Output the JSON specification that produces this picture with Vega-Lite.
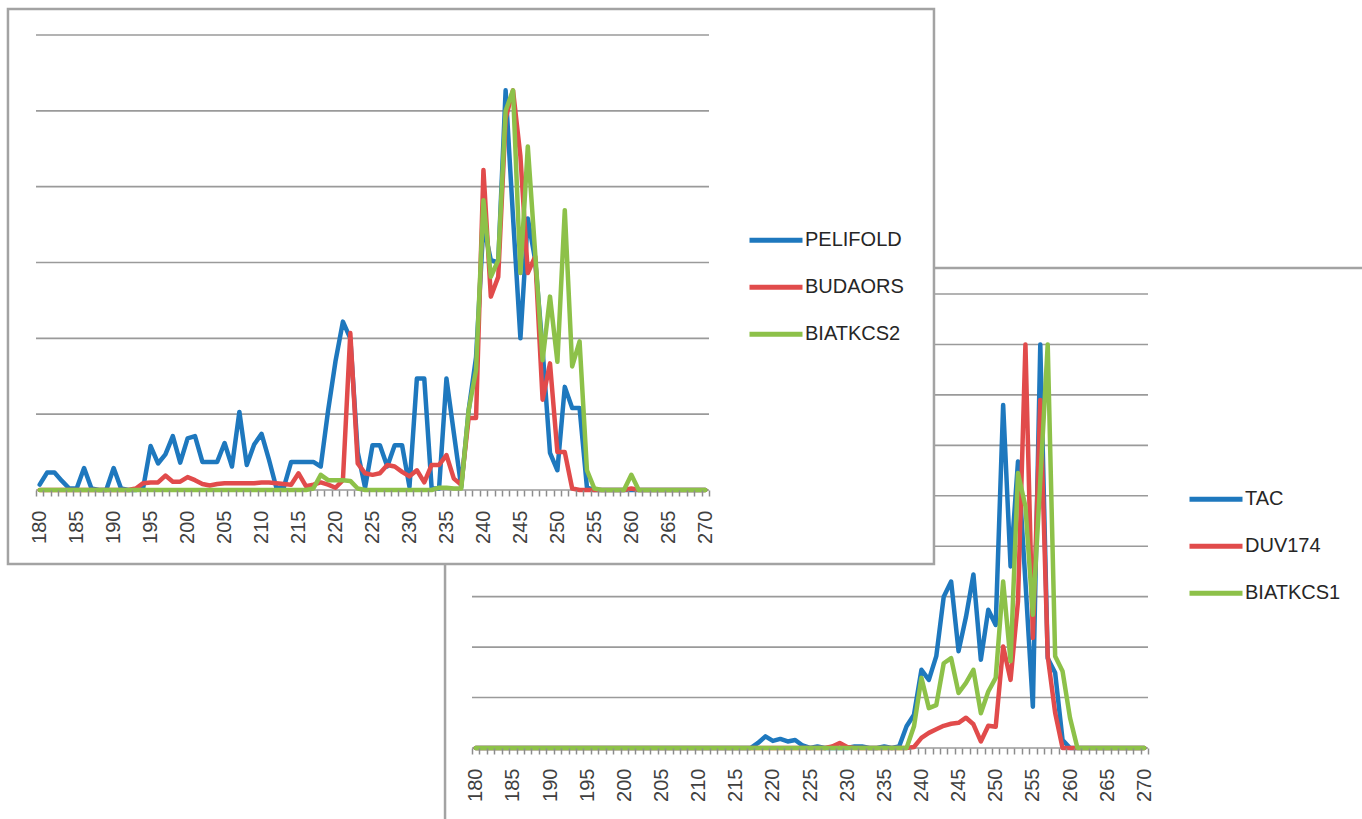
{
"$schema": "https://vega.github.io/schema/vega-lite/v6.json",
"width": 1362, "height": 490, "autosize": {"type": "none"}, "padding": {"left": 0, "top": 0, "right": 0, "bottom": 329},
"background": "white",
"config": {"view": {"stroke": null}},
"datasets": {
"c1": [
{"x":180,"PELIFOLD":0.07,"BUDAORS":0,"BIATKCS2":0},
{"x":181,"PELIFOLD":0.23,"BUDAORS":0,"BIATKCS2":0},
{"x":182,"PELIFOLD":0.23,"BUDAORS":0,"BIATKCS2":0},
{"x":183,"PELIFOLD":0.12,"BUDAORS":0,"BIATKCS2":0},
{"x":184,"PELIFOLD":0.02,"BUDAORS":0,"BIATKCS2":0},
{"x":185,"PELIFOLD":0.02,"BUDAORS":0,"BIATKCS2":0},
{"x":186,"PELIFOLD":0.29,"BUDAORS":0,"BIATKCS2":0},
{"x":187,"PELIFOLD":0.02,"BUDAORS":0,"BIATKCS2":0},
{"x":188,"PELIFOLD":0,"BUDAORS":0,"BIATKCS2":0},
{"x":189,"PELIFOLD":0,"BUDAORS":0,"BIATKCS2":0},
{"x":190,"PELIFOLD":0.29,"BUDAORS":0,"BIATKCS2":0},
{"x":191,"PELIFOLD":0.02,"BUDAORS":0,"BIATKCS2":0},
{"x":192,"PELIFOLD":0,"BUDAORS":0,"BIATKCS2":0},
{"x":193,"PELIFOLD":0,"BUDAORS":0.02,"BIATKCS2":0},
{"x":194,"PELIFOLD":0.03,"BUDAORS":0.09,"BIATKCS2":0},
{"x":195,"PELIFOLD":0.58,"BUDAORS":0.1,"BIATKCS2":0},
{"x":196,"PELIFOLD":0.35,"BUDAORS":0.1,"BIATKCS2":0},
{"x":197,"PELIFOLD":0.47,"BUDAORS":0.19,"BIATKCS2":0},
{"x":198,"PELIFOLD":0.71,"BUDAORS":0.11,"BIATKCS2":0},
{"x":199,"PELIFOLD":0.36,"BUDAORS":0.11,"BIATKCS2":0},
{"x":200,"PELIFOLD":0.68,"BUDAORS":0.17,"BIATKCS2":0},
{"x":201,"PELIFOLD":0.71,"BUDAORS":0.13,"BIATKCS2":0},
{"x":202,"PELIFOLD":0.37,"BUDAORS":0.08,"BIATKCS2":0},
{"x":203,"PELIFOLD":0.37,"BUDAORS":0.06,"BIATKCS2":0},
{"x":204,"PELIFOLD":0.37,"BUDAORS":0.08,"BIATKCS2":0},
{"x":205,"PELIFOLD":0.62,"BUDAORS":0.09,"BIATKCS2":0},
{"x":206,"PELIFOLD":0.31,"BUDAORS":0.09,"BIATKCS2":0},
{"x":207,"PELIFOLD":1.03,"BUDAORS":0.09,"BIATKCS2":0},
{"x":208,"PELIFOLD":0.33,"BUDAORS":0.09,"BIATKCS2":0},
{"x":209,"PELIFOLD":0.6,"BUDAORS":0.09,"BIATKCS2":0},
{"x":210,"PELIFOLD":0.74,"BUDAORS":0.1,"BIATKCS2":0},
{"x":211,"PELIFOLD":0.4,"BUDAORS":0.1,"BIATKCS2":0},
{"x":212,"PELIFOLD":0.03,"BUDAORS":0.09,"BIATKCS2":0},
{"x":213,"PELIFOLD":0.03,"BUDAORS":0.08,"BIATKCS2":0},
{"x":214,"PELIFOLD":0.37,"BUDAORS":0.07,"BIATKCS2":0},
{"x":215,"PELIFOLD":0.37,"BUDAORS":0.22,"BIATKCS2":0},
{"x":216,"PELIFOLD":0.37,"BUDAORS":0.05,"BIATKCS2":0},
{"x":217,"PELIFOLD":0.37,"BUDAORS":0.07,"BIATKCS2":0.02},
{"x":218,"PELIFOLD":0.31,"BUDAORS":0.1,"BIATKCS2":0.2},
{"x":219,"PELIFOLD":1.05,"BUDAORS":0.07,"BIATKCS2":0.13},
{"x":220,"PELIFOLD":1.7,"BUDAORS":0.03,"BIATKCS2":0.13},
{"x":221,"PELIFOLD":2.22,"BUDAORS":0.13,"BIATKCS2":0.13},
{"x":222,"PELIFOLD":2.0,"BUDAORS":2.07,"BIATKCS2":0.12},
{"x":223,"PELIFOLD":0.5,"BUDAORS":0.35,"BIATKCS2":0.02},
{"x":224,"PELIFOLD":0.03,"BUDAORS":0.22,"BIATKCS2":0},
{"x":225,"PELIFOLD":0.59,"BUDAORS":0.2,"BIATKCS2":0},
{"x":226,"PELIFOLD":0.59,"BUDAORS":0.22,"BIATKCS2":0},
{"x":227,"PELIFOLD":0.31,"BUDAORS":0.33,"BIATKCS2":0},
{"x":228,"PELIFOLD":0.59,"BUDAORS":0.31,"BIATKCS2":0},
{"x":229,"PELIFOLD":0.59,"BUDAORS":0.24,"BIATKCS2":0},
{"x":230,"PELIFOLD":0.04,"BUDAORS":0.18,"BIATKCS2":0},
{"x":231,"PELIFOLD":1.47,"BUDAORS":0.26,"BIATKCS2":0},
{"x":232,"PELIFOLD":1.47,"BUDAORS":0.1,"BIATKCS2":0},
{"x":233,"PELIFOLD":0.02,"BUDAORS":0.33,"BIATKCS2":0},
{"x":234,"PELIFOLD":0.02,"BUDAORS":0.33,"BIATKCS2":0.03},
{"x":235,"PELIFOLD":1.47,"BUDAORS":0.46,"BIATKCS2":0.03},
{"x":236,"PELIFOLD":0.75,"BUDAORS":0.15,"BIATKCS2":0.02},
{"x":237,"PELIFOLD":0.04,"BUDAORS":0.07,"BIATKCS2":0.02},
{"x":238,"PELIFOLD":1.05,"BUDAORS":0.95,"BIATKCS2":1.05},
{"x":239,"PELIFOLD":1.75,"BUDAORS":0.95,"BIATKCS2":1.58},
{"x":240,"PELIFOLD":3.5,"BUDAORS":4.22,"BIATKCS2":3.82},
{"x":241,"PELIFOLD":3.03,"BUDAORS":2.55,"BIATKCS2":2.81},
{"x":242,"PELIFOLD":3.0,"BUDAORS":2.81,"BIATKCS2":3.03},
{"x":243,"PELIFOLD":5.27,"BUDAORS":4.9,"BIATKCS2":5.0},
{"x":244,"PELIFOLD":3.6,"BUDAORS":5.27,"BIATKCS2":5.27},
{"x":245,"PELIFOLD":2.0,"BUDAORS":4.4,"BIATKCS2":2.86},
{"x":246,"PELIFOLD":3.58,"BUDAORS":2.86,"BIATKCS2":4.53},
{"x":247,"PELIFOLD":3.03,"BUDAORS":3.08,"BIATKCS2":3.12},
{"x":248,"PELIFOLD":1.85,"BUDAORS":1.19,"BIATKCS2":1.71},
{"x":249,"PELIFOLD":0.49,"BUDAORS":1.67,"BIATKCS2":2.55},
{"x":250,"PELIFOLD":0.26,"BUDAORS":0.5,"BIATKCS2":1.69},
{"x":251,"PELIFOLD":1.36,"BUDAORS":0.5,"BIATKCS2":3.69},
{"x":252,"PELIFOLD":1.08,"BUDAORS":0.02,"BIATKCS2":1.63},
{"x":253,"PELIFOLD":1.08,"BUDAORS":0,"BIATKCS2":1.96},
{"x":254,"PELIFOLD":0.03,"BUDAORS":0,"BIATKCS2":0.26},
{"x":255,"PELIFOLD":0,"BUDAORS":0,"BIATKCS2":0.02},
{"x":256,"PELIFOLD":0,"BUDAORS":0,"BIATKCS2":0},
{"x":257,"PELIFOLD":0,"BUDAORS":0,"BIATKCS2":0},
{"x":258,"PELIFOLD":0,"BUDAORS":0,"BIATKCS2":0},
{"x":259,"PELIFOLD":0,"BUDAORS":0,"BIATKCS2":0},
{"x":260,"PELIFOLD":0,"BUDAORS":0.02,"BIATKCS2":0.2},
{"x":261,"PELIFOLD":0,"BUDAORS":0,"BIATKCS2":0},
{"x":262,"PELIFOLD":0,"BUDAORS":0,"BIATKCS2":0},
{"x":263,"PELIFOLD":0,"BUDAORS":0,"BIATKCS2":0},
{"x":264,"PELIFOLD":0,"BUDAORS":0,"BIATKCS2":0},
{"x":265,"PELIFOLD":0,"BUDAORS":0,"BIATKCS2":0},
{"x":266,"PELIFOLD":0,"BUDAORS":0,"BIATKCS2":0},
{"x":267,"PELIFOLD":0,"BUDAORS":0,"BIATKCS2":0},
{"x":268,"PELIFOLD":0,"BUDAORS":0,"BIATKCS2":0},
{"x":269,"PELIFOLD":0,"BUDAORS":0,"BIATKCS2":0},
{"x":270,"PELIFOLD":0,"BUDAORS":0,"BIATKCS2":0}
],
"c2": [
{"x":180,"TAC":0,"DUV174":0,"BIATKCS1":0},
{"x":181,"TAC":0,"DUV174":0,"BIATKCS1":0},
{"x":182,"TAC":0,"DUV174":0,"BIATKCS1":0},
{"x":183,"TAC":0,"DUV174":0,"BIATKCS1":0},
{"x":184,"TAC":0,"DUV174":0,"BIATKCS1":0},
{"x":185,"TAC":0,"DUV174":0,"BIATKCS1":0},
{"x":186,"TAC":0,"DUV174":0,"BIATKCS1":0},
{"x":187,"TAC":0,"DUV174":0,"BIATKCS1":0},
{"x":188,"TAC":0,"DUV174":0,"BIATKCS1":0},
{"x":189,"TAC":0,"DUV174":0,"BIATKCS1":0},
{"x":190,"TAC":0,"DUV174":0,"BIATKCS1":0},
{"x":191,"TAC":0,"DUV174":0,"BIATKCS1":0},
{"x":192,"TAC":0,"DUV174":0,"BIATKCS1":0},
{"x":193,"TAC":0,"DUV174":0,"BIATKCS1":0},
{"x":194,"TAC":0,"DUV174":0,"BIATKCS1":0},
{"x":195,"TAC":0,"DUV174":0,"BIATKCS1":0},
{"x":196,"TAC":0,"DUV174":0,"BIATKCS1":0},
{"x":197,"TAC":0,"DUV174":0,"BIATKCS1":0},
{"x":198,"TAC":0,"DUV174":0,"BIATKCS1":0},
{"x":199,"TAC":0,"DUV174":0,"BIATKCS1":0},
{"x":200,"TAC":0,"DUV174":0,"BIATKCS1":0},
{"x":201,"TAC":0,"DUV174":0,"BIATKCS1":0},
{"x":202,"TAC":0,"DUV174":0,"BIATKCS1":0},
{"x":203,"TAC":0,"DUV174":0,"BIATKCS1":0},
{"x":204,"TAC":0,"DUV174":0,"BIATKCS1":0},
{"x":205,"TAC":0,"DUV174":0,"BIATKCS1":0},
{"x":206,"TAC":0,"DUV174":0,"BIATKCS1":0},
{"x":207,"TAC":0,"DUV174":0,"BIATKCS1":0},
{"x":208,"TAC":0,"DUV174":0,"BIATKCS1":0},
{"x":209,"TAC":0,"DUV174":0,"BIATKCS1":0},
{"x":210,"TAC":0,"DUV174":0,"BIATKCS1":0},
{"x":211,"TAC":0,"DUV174":0,"BIATKCS1":0},
{"x":212,"TAC":0,"DUV174":0,"BIATKCS1":0},
{"x":213,"TAC":0,"DUV174":0,"BIATKCS1":0},
{"x":214,"TAC":0,"DUV174":0,"BIATKCS1":0},
{"x":215,"TAC":0,"DUV174":0,"BIATKCS1":0},
{"x":216,"TAC":0,"DUV174":0,"BIATKCS1":0},
{"x":217,"TAC":0,"DUV174":0,"BIATKCS1":0},
{"x":218,"TAC":0.1,"DUV174":0,"BIATKCS1":0},
{"x":219,"TAC":0.23,"DUV174":0,"BIATKCS1":0},
{"x":220,"TAC":0.14,"DUV174":0,"BIATKCS1":0},
{"x":221,"TAC":0.18,"DUV174":0,"BIATKCS1":0},
{"x":222,"TAC":0.13,"DUV174":0,"BIATKCS1":0},
{"x":223,"TAC":0.16,"DUV174":0,"BIATKCS1":0},
{"x":224,"TAC":0.05,"DUV174":0,"BIATKCS1":0},
{"x":225,"TAC":0,"DUV174":0,"BIATKCS1":0},
{"x":226,"TAC":0.03,"DUV174":0,"BIATKCS1":0},
{"x":227,"TAC":0,"DUV174":0,"BIATKCS1":0},
{"x":228,"TAC":0,"DUV174":0.03,"BIATKCS1":0},
{"x":229,"TAC":0,"DUV174":0.1,"BIATKCS1":0},
{"x":230,"TAC":0,"DUV174":0.02,"BIATKCS1":0},
{"x":231,"TAC":0.03,"DUV174":0,"BIATKCS1":0},
{"x":232,"TAC":0.03,"DUV174":0,"BIATKCS1":0},
{"x":233,"TAC":0,"DUV174":0,"BIATKCS1":0},
{"x":234,"TAC":0,"DUV174":0,"BIATKCS1":0},
{"x":235,"TAC":0.03,"DUV174":0,"BIATKCS1":0},
{"x":236,"TAC":0,"DUV174":0,"BIATKCS1":0},
{"x":237,"TAC":0.03,"DUV174":0,"BIATKCS1":0},
{"x":238,"TAC":0.43,"DUV174":0,"BIATKCS1":0},
{"x":239,"TAC":0.66,"DUV174":0.02,"BIATKCS1":0.43},
{"x":240,"TAC":1.55,"DUV174":0.2,"BIATKCS1":1.39},
{"x":241,"TAC":1.35,"DUV174":0.3,"BIATKCS1":0.79},
{"x":242,"TAC":1.82,"DUV174":0.37,"BIATKCS1":0.85},
{"x":243,"TAC":3.0,"DUV174":0.44,"BIATKCS1":1.68},
{"x":244,"TAC":3.3,"DUV174":0.48,"BIATKCS1":1.78},
{"x":245,"TAC":1.92,"DUV174":0.5,"BIATKCS1":1.09},
{"x":246,"TAC":2.6,"DUV174":0.6,"BIATKCS1":1.29},
{"x":247,"TAC":3.44,"DUV174":0.47,"BIATKCS1":1.55},
{"x":248,"TAC":1.75,"DUV174":0.13,"BIATKCS1":0.69},
{"x":249,"TAC":2.74,"DUV174":0.44,"BIATKCS1":1.12},
{"x":250,"TAC":2.44,"DUV174":0.42,"BIATKCS1":1.39},
{"x":251,"TAC":6.8,"DUV174":2.01,"BIATKCS1":3.3},
{"x":252,"TAC":3.6,"DUV174":1.35,"BIATKCS1":1.72},
{"x":253,"TAC":5.68,"DUV174":2.91,"BIATKCS1":5.45},
{"x":254,"TAC":3.3,"DUV174":8.0,"BIATKCS1":4.79},
{"x":255,"TAC":0.82,"DUV174":2.18,"BIATKCS1":2.64},
{"x":256,"TAC":8.0,"DUV174":6.9,"BIATKCS1":5.3},
{"x":257,"TAC":1.78,"DUV174":1.82,"BIATKCS1":8.0},
{"x":258,"TAC":1.49,"DUV174":0.7,"BIATKCS1":1.82},
{"x":259,"TAC":0.16,"DUV174":0,"BIATKCS1":1.52},
{"x":260,"TAC":0,"DUV174":0,"BIATKCS1":0.6},
{"x":261,"TAC":0,"DUV174":0,"BIATKCS1":0},
{"x":262,"TAC":0,"DUV174":0,"BIATKCS1":0},
{"x":263,"TAC":0,"DUV174":0,"BIATKCS1":0},
{"x":264,"TAC":0,"DUV174":0,"BIATKCS1":0},
{"x":265,"TAC":0,"DUV174":0,"BIATKCS1":0},
{"x":266,"TAC":0,"DUV174":0,"BIATKCS1":0},
{"x":267,"TAC":0,"DUV174":0,"BIATKCS1":0},
{"x":268,"TAC":0,"DUV174":0,"BIATKCS1":0},
{"x":269,"TAC":0,"DUV174":0,"BIATKCS1":0},
{"x":270,"TAC":0,"DUV174":0,"BIATKCS1":0}
],
"g1": [{"g":0},{"g":1},{"g":2},{"g":3},{"g":4},{"g":5},{"g":6}],
"g2a": [{"g":0},{"g":1},{"g":2},{"g":3}],
"g2b": [{"g":4},{"g":5},{"g":6},{"g":7},{"g":8},{"g":9}],
"one": [{}]
},
"layer": [
{
"layer": [
{"data": {"name": "one"}, "mark": {"type": "rule", "stroke": "#a3a3a3", "strokeWidth": 2.5},
 "encoding": {
  "x": {"datum": 241.69, "type": "quantitative", "title": null, "scale": {"domain": [179.5, 270.5], "range": [472, 1148], "nice": false, "zero": false}},
  "x2": {"datum": 300.4},
  "y": {"datum": 9.516, "type": "quantitative", "scale": {"domain": [0, 9], "range": [748, 294], "nice": false, "zero": false}, "axis": null}}},
{"data": {"name": "one"}, "mark": {"type": "rule", "stroke": "#a3a3a3", "strokeWidth": 2.5},
 "encoding": {
  "x": {"datum": 175.87, "type": "quantitative", "title": null},
  "y": {"datum": 3.63, "type": "quantitative", "axis": null},
  "y2": {"datum": -1.63}}},
{"data": {"name": "g2a"}, "mark": {"type": "rule", "stroke": "#9a9a9a", "strokeWidth": 1.6},
 "encoding": {
  "x": {"datum": 179.5, "type": "quantitative", "title": null},
  "x2": {"datum": 270.5},
  "y": {"field": "g", "type": "quantitative", "axis": null}}},
{"data": {"name": "g2b"}, "mark": {"type": "rule", "stroke": "#9a9a9a", "strokeWidth": 1.6},
 "encoding": {
  "x": {"datum": 241.69, "type": "quantitative", "title": null},
  "x2": {"datum": 270.5},
  "y": {"field": "g", "type": "quantitative", "axis": null}}},
{"data": {"name": "c2"}, "mark": {"type": "line", "strokeWidth": 4.5, "strokeCap": "round", "strokeJoin": "round"},
 "encoding": {
  "x": {"field": "x", "type": "quantitative", "title": null,
   "axis": {"orient": "bottom", "offset": 258, "zindex": 1, "title": null, "grid": false, "domain": false, "tickCount": 300,
    "values": [179.5,180.5,181.5,182.5,183.5,184.5,185.5,186.5,187.5,188.5,189.5,190.5,191.5,192.5,193.5,194.5,195.5,196.5,197.5,198.5,199.5,200.5,201.5,202.5,203.5,204.5,205.5,206.5,207.5,208.5,209.5,210.5,211.5,212.5,213.5,214.5,215.5,216.5,217.5,218.5,219.5,220.5,221.5,222.5,223.5,224.5,225.5,226.5,227.5,228.5,229.5,230.5,231.5,232.5,233.5,234.5,235.5,236.5,237.5,238.5,239.5,240.5,241.5,242.5,243.5,244.5,245.5,246.5,247.5,248.5,249.5,250.5,251.5,252.5,253.5,254.5,255.5,256.5,257.5,258.5,259.5,260.5,261.5,262.5,263.5,264.5,265.5,266.5,267.5,268.5,269.5,270.5,180,185,190,195,200,205,210,215,220,225,230,235,240,245,250,255,260,265,270],
    "tickColor": "#8c8c8c", "tickWidth": 1.5, "tickSize": 6,
    "tickOpacity": {"condition": {"test": "datum.value % 1 === 0", "value": 0}, "value": 1},
    "labelExpr": "datum.value % 5 === 0 ? format(datum.value, 'd') : ''",
    "labelAngle": -90, "labelPadding": 14, "labelFont": "Liberation Sans", "labelFontSize": 20, "labelColor": "#404040",
    "labelOverlap": false, "labelFlush": false, "labelBound": false}},
  "y": {"field": "TAC", "type": "quantitative", "axis": null},
  "color": {"datum": "TAC", "type": "nominal", "scale": {"domain": ["TAC", "DUV174", "BIATKCS1"], "range": ["#1e78be", "#e14b4b", "#8dc149"]},
   "legend": {"orient": "none", "legendX": 1187, "legendY": 476, "direction": "vertical", "title": null, "symbolType": "stroke", "symbolSize": 2809, "symbolStrokeWidth": 5, "labelFontSize": 20, "labelFont": "Liberation Sans", "labelColor": "#262626", "labelOffset": 0, "rowPadding": 0, "clipHeight": 46.5, "padding": 0, "labelLimit": 300}}}},
{"data": {"name": "c2"}, "mark": {"type": "line", "strokeWidth": 4.5, "strokeCap": "round", "strokeJoin": "round"},
 "encoding": {
  "x": {"field": "x", "type": "quantitative", "title": null},
  "y": {"field": "DUV174", "type": "quantitative", "axis": null},
  "color": {"datum": "DUV174", "type": "nominal"}}},
{"data": {"name": "c2"}, "mark": {"type": "line", "strokeWidth": 4.5, "strokeCap": "round", "strokeJoin": "round"},
 "encoding": {
  "x": {"field": "x", "type": "quantitative", "title": null},
  "y": {"field": "BIATKCS1", "type": "quantitative", "axis": null},
  "color": {"datum": "BIATKCS1", "type": "nominal"}}}
]
},
{
"layer": [
{"data": {"name": "one"}, "mark": {"type": "rect", "filled": false, "stroke": "#a3a3a3", "strokeWidth": 2.5},
 "encoding": {
  "x": {"datum": 175.71, "type": "quantitative", "title": null, "scale": {"domain": [179.5, 270.5], "range": [36, 709], "nice": false, "zero": false}},
  "x2": {"datum": 300.92},
  "y": {"datum": 6.343, "type": "quantitative", "scale": {"domain": [0, 6], "range": [490, 35], "nice": false, "zero": false}, "axis": null},
  "y2": {"datum": -0.976}}},
{"data": {"name": "g1"}, "mark": {"type": "rule", "stroke": "#9a9a9a", "strokeWidth": 1.6},
 "encoding": {
  "x": {"datum": 179.5, "type": "quantitative", "title": null},
  "x2": {"datum": 270.5},
  "y": {"field": "g", "type": "quantitative", "axis": null}}},
{"data": {"name": "c1"}, "mark": {"type": "line", "strokeWidth": 4.5, "strokeCap": "round", "strokeJoin": "round"},
 "encoding": {
  "x": {"field": "x", "type": "quantitative", "title": null,
   "axis": {"orient": "bottom", "offset": 0, "zindex": 1, "title": null, "grid": false, "domain": false, "tickCount": 300,
    "values": [179.5,180.5,181.5,182.5,183.5,184.5,185.5,186.5,187.5,188.5,189.5,190.5,191.5,192.5,193.5,194.5,195.5,196.5,197.5,198.5,199.5,200.5,201.5,202.5,203.5,204.5,205.5,206.5,207.5,208.5,209.5,210.5,211.5,212.5,213.5,214.5,215.5,216.5,217.5,218.5,219.5,220.5,221.5,222.5,223.5,224.5,225.5,226.5,227.5,228.5,229.5,230.5,231.5,232.5,233.5,234.5,235.5,236.5,237.5,238.5,239.5,240.5,241.5,242.5,243.5,244.5,245.5,246.5,247.5,248.5,249.5,250.5,251.5,252.5,253.5,254.5,255.5,256.5,257.5,258.5,259.5,260.5,261.5,262.5,263.5,264.5,265.5,266.5,267.5,268.5,269.5,270.5,180,185,190,195,200,205,210,215,220,225,230,235,240,245,250,255,260,265,270],
    "tickColor": "#8c8c8c", "tickWidth": 1.5, "tickSize": 6,
    "tickOpacity": {"condition": {"test": "datum.value % 1 === 0", "value": 0}, "value": 1},
    "labelExpr": "datum.value % 5 === 0 ? format(datum.value, 'd') : ''",
    "labelAngle": -90, "labelPadding": 14, "labelFont": "Liberation Sans", "labelFontSize": 20, "labelColor": "#404040",
    "labelOverlap": false, "labelFlush": false, "labelBound": false}},
  "y": {"field": "PELIFOLD", "type": "quantitative", "axis": null},
  "color": {"datum": "PELIFOLD", "type": "nominal", "scale": {"domain": ["PELIFOLD", "BUDAORS", "BIATKCS2"], "range": ["#1e78be", "#e14b4b", "#8dc149"]},
   "legend": {"orient": "none", "legendX": 747, "legendY": 217, "direction": "vertical", "title": null, "symbolType": "stroke", "symbolSize": 2809, "symbolStrokeWidth": 5, "labelFontSize": 20, "labelFont": "Liberation Sans", "labelColor": "#262626", "labelOffset": 0, "rowPadding": 0, "clipHeight": 46.5, "padding": 0, "labelLimit": 300}}}},
{"data": {"name": "c1"}, "mark": {"type": "line", "strokeWidth": 4.5, "strokeCap": "round", "strokeJoin": "round"},
 "encoding": {
  "x": {"field": "x", "type": "quantitative", "title": null},
  "y": {"field": "BUDAORS", "type": "quantitative", "axis": null},
  "color": {"datum": "BUDAORS", "type": "nominal"}}},
{"data": {"name": "c1"}, "mark": {"type": "line", "strokeWidth": 4.5, "strokeCap": "round", "strokeJoin": "round"},
 "encoding": {
  "x": {"field": "x", "type": "quantitative", "title": null},
  "y": {"field": "BIATKCS2", "type": "quantitative", "axis": null},
  "color": {"datum": "BIATKCS2", "type": "nominal"}}}
]
}
],
"resolve": {"scale": {"x": "independent", "y": "independent", "color": "independent"}}
}
